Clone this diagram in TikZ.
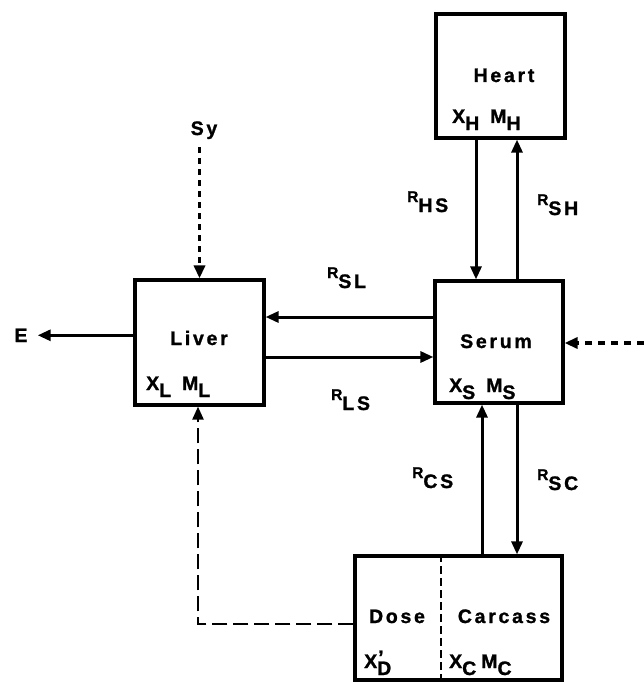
\documentclass[tikz,border=0pt]{standalone}
\usepackage{fontspec}
\setmainfont{Liberation Sans}[LetterSpace=14, BoldFeatures={FakeBold=1.2}]
\usepackage{tikz}
\usetikzlibrary{arrows.meta, calc}

% lowered subscript and rate label
\newcommand{\sbx}[1]{\raisebox{-7pt}{#1}}
\newcommand{\rate}[1]{{\fontsize{15.5}{16}\selectfont R}\raisebox{-10pt}{#1}}

\begin{document}
\begin{tikzpicture}[x=1pt, y=-1pt,
    box/.style={draw, line width=3.2pt, inner sep=0pt},
    lbl/.style={font=\fontsize{19.5}{21}\selectfont\bfseries, inner sep=0pt, anchor=base},
    sym/.style={lbl, anchor=base west},
    arr/.style={line width=3pt, -{Triangle[length=13pt, width=11pt]}},
    sydash/.style={arr, line width=3.4pt, dash pattern=on 6pt off 5pt},
    feeddash/.style={arr, line width=3.4pt, dash pattern=on 7pt off 6pt},
    dosedash/.style={arr, line width=2.4pt, dash pattern=on 15pt off 6pt},
    divider/.style={line width=2pt, dash pattern=on 8pt off 4pt}]
  \useasboundingbox (0,0) rectangle (644,682);

  % compartments
  \node[box, minimum width=129pt, minimum height=124pt] (heart) at (500.5,76) {};
  \node[box, minimum width=128pt, minimum height=122pt] (serum) at (499,342) {};
  \node[box, minimum width=129pt, minimum height=125pt] (liver) at (199.5,342.5) {};
  \node[box, minimum width=207pt, minimum height=124pt] (body) at (458.5,618) {};
  \draw[divider] ([xshift=-17.5pt]body.north) -- ([xshift=-17.5pt]body.south);

  % texts in the boxes
  \node[lbl] (heartname) at (504,82) {Heart};
  \node[sym] (heartsym) at (452,123) {X\sbx{H}\hspace{11pt}M\sbx{H}};
  \node[lbl] (serumname) at (496,348) {Serum};
  \node[sym] (serumsym) at (449,392) {X\sbx{S}\hspace{11pt}M\sbx{S}};
  \node[lbl] (livername) at (199,345) {Liver};
  \node[sym] (liversym) at (146,390) {X\sbx{L}\hspace{11pt}M\sbx{L}};
  \node[lbl] (dosename) at (397,623) {Dose};
  \node[lbl] (carcname) at (504,623) {Carcass};
  \node[sym] (dosesym) at (364,668) {X\rlap{\hspace{1pt}\raisebox{4pt}{'}}\sbx{D}};
  \node[sym] (carcsym) at (449,668) {X\sbx{C}\hspace{5pt}M\sbx{C}};

  % outside labels
  \node[lbl] (elim) at (21,342) {E};
  \node[lbl] (sy) at (204,135) {Sy};
  \coordinate (feed) at (644,343);

  % rates
  \node[sym] (rhs) at (407,202) {\rate{HS}};
  \node[sym] (rsh) at (537,205) {\rate{SH}};
  \node[sym] (rsl) at (327,278) {\rate{SL}};
  \node[sym] (rls) at (331,400) {\rate{LS}};
  \node[sym] (rcs) at (412,478) {\rate{CS}};
  \node[sym] (rsc) at (537,480) {\rate{SC}};

  % flows
  \draw[arr] ([xshift=-24.5pt]heart.south) -- ([xshift=-23pt]serum.north);
  \draw[arr] ([xshift=18pt]serum.north) -- ([xshift=16.5pt]heart.south);
  \draw[arr] ([yshift=25pt]serum.west) -- ([yshift=25.5pt]liver.east);
  \draw[arr] ([yshift=-14.5pt]liver.east) -- ([yshift=-15pt]serum.west);
  \draw[arr] ([xshift=23.5pt]body.north) -- ([xshift=-17pt]serum.south);
  \draw[arr] ([xshift=18pt]serum.south) -- ([xshift=58.5pt]body.north);
  \draw[arr, shorten >=10pt] (liver.west |- elim.east) -- (elim.east);
  \draw[sydash, shorten <=8pt] (sy.south -| liver.north) -- (liver.north);
  \draw[feeddash] (feed) -- (serum.east |- feed);
  \draw[dosedash] ([yshift=-6pt]body.west) -| ([xshift=-1.5pt]liver.south);
\end{tikzpicture}
\end{document}
